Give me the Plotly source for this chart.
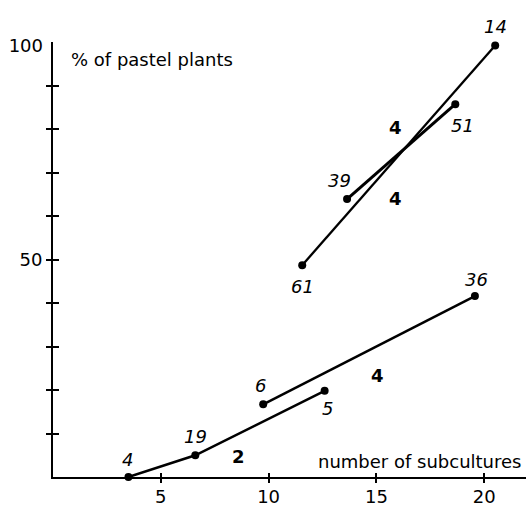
import plotly.graph_objects as go

# ---- data ----
s1_x = [3.5, 6.6, 12.6]
s1_y = [0.0, 5.0, 19.8]
s1_n = ["4", "19", "5"]

s2_x = [9.75, 19.57]
s2_y = [16.7, 41.6]
s2_n = ["6", "36"]

s3_x = [11.56, 20.51]
s3_y = [48.7, 99.2]
s3_n = ["61", "14"]

s4_x = [13.64, 18.66]
s4_y = [63.9, 85.7]
s4_n = ["39", "51"]

bold_x = [8.61, 15.07, 15.89, 15.89]
bold_y = [4.6, 23.4, 80.3, 64.1]
bold_t = ["2", "4", "4", "4"]

x_ticks = [5, 10, 15, 20]
y_minor = [10, 20, 30, 40, 50, 60, 70, 80, 90]
y_minor_text = ["", "", "", "", "50", "", "", "", ""]

# label offsets (pixels) relative to the points
s1_off = [(-1, 18), (0, 19), (3, -18)]
s2_off = [(-3, 19), (2, 17)]
s3_off = [(0, -21), (0, 19)]
s4_off = [(-8, 19), (7, -21)]

FONT = "DejaVu Sans"

fig = go.Figure()
series = [(s1_x, s1_y, s1_n, s1_off, 2.5),
          (s2_x, s2_y, s2_n, s2_off, 2.5),
          (s3_x, s3_y, s3_n, s3_off, 2.3),
          (s4_x, s4_y, s4_n, s4_off, 3.0)]
annotations = []
for xs, ys, ns, offs, lw in series:
    fig.add_trace(go.Scatter(x=xs, y=ys, mode="lines+markers",
                             line=dict(color="black", width=lw),
                             marker=dict(color="black", size=8),
                             cliponaxis=False, showlegend=False,
                             hoverinfo="skip"))
    for x, y, n, (dx, dy) in zip(xs, ys, ns, offs):
        annotations.append(dict(x=x, y=y, text=n, showarrow=False,
                                xshift=dx, yshift=dy,
                                font=dict(family=FONT, size=18, color="black",
                                          style="italic")))

for x, y, t in zip(bold_x, bold_y, bold_t):
    annotations.append(dict(x=x, y=y, text=t, showarrow=False,
                            font=dict(family=FONT, size=18, color="black",
                                      weight="bold")))

annotations.append(dict(x=0.76, y=95.9, text="% of pastel plants", showarrow=False,
                        xanchor="left", yanchor="middle",
                        font=dict(family=FONT, size=18, color="black")))
annotations.append(dict(x=21.81, y=3.6, text="number of subcultures", showarrow=False,
                        xanchor="right", yanchor="middle",
                        font=dict(family=FONT, size=18, color="black")))

# dummy traces for overlay axes (crossing ticks)
fig.add_trace(go.Scatter(x=[None], y=[None], xaxis="x2", yaxis="y2",
                         showlegend=False, hoverinfo="skip"))
fig.add_trace(go.Scatter(x=[None], y=[None], xaxis="x", yaxis="y3",
                         showlegend=False, hoverinfo="skip"))

XR = [0, 21.94]
YR = [0, 100]
fig.update_layout(
    width=526, height=507,
    margin=dict(l=53, r=0, t=42, b=30, autoexpand=False),
    paper_bgcolor="white", plot_bgcolor="white",
    annotations=annotations,
    xaxis=dict(range=XR, showline=True, linewidth=2, linecolor="black",
               tickvals=x_ticks, ticks="outside", ticklen=4, tickwidth=1.5,
               tickcolor="black", showgrid=False, zeroline=False,
               ticklabelstandoff=-2, automargin=False,
               tickfont=dict(family=FONT, size=18, color="black")),
    xaxis2=dict(range=XR, overlaying="x", anchor="y", showline=False,
                tickvals=x_ticks, ticks="inside", ticklen=4, tickwidth=1.5,
                tickcolor="black", showticklabels=False, showgrid=False,
                zeroline=False, automargin=False),
    yaxis=dict(range=YR, showline=True, linewidth=2, linecolor="black",
               tickvals=y_minor, ticktext=y_minor_text, ticks="outside",
               ticklen=5, tickwidth=2, tickcolor="black", showgrid=False,
               zeroline=False, automargin=False,
               tickfont=dict(family=FONT, size=18, color="black")),
    yaxis2=dict(range=YR, overlaying="y", anchor="x", side="left",
                showline=False, tickvals=y_minor, ticks="inside", ticklen=6,
                tickwidth=2, tickcolor="black", showticklabels=False,
                showgrid=False, zeroline=False, automargin=False),
    yaxis3=dict(range=YR, overlaying="y", anchor="x", side="left",
                showline=False, tickvals=[100], ticktext=["100"], ticks="",
                ticklabelstandoff=9, ticklabelshift=4, automargin=False,
                showgrid=False, zeroline=False,
                tickfont=dict(family=FONT, size=18, color="black")),
)

fig.write_html("out.html")
